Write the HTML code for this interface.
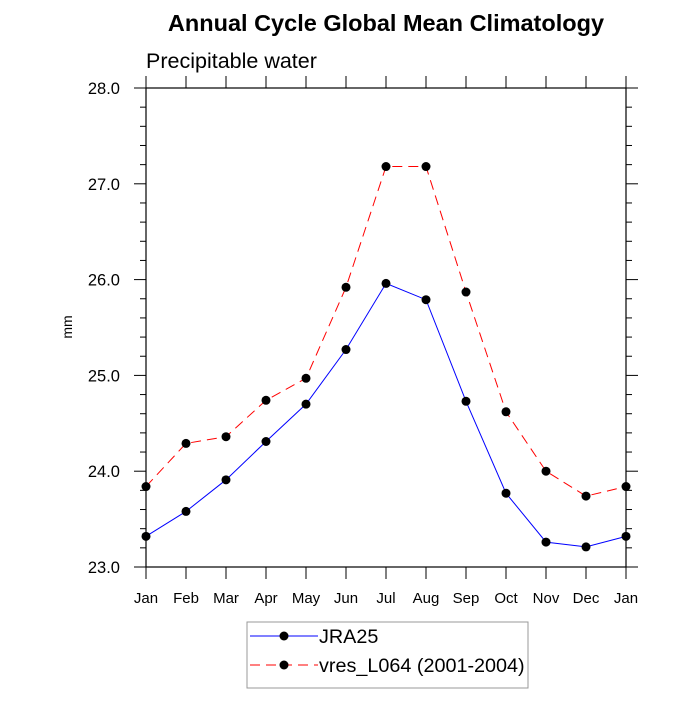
<!DOCTYPE html>
<html><head><meta charset="utf-8"><style>body{margin:0;background:#fff}svg{font-family:"Liberation Sans",sans-serif}</style></head>
<body>
<svg id="c" width="700" height="700" xmlns="http://www.w3.org/2000/svg">
<text x="386" y="31" font-size="23.5" font-weight="bold" text-anchor="middle">Annual Cycle Global Mean Climatology</text>
<text x="146" y="68" font-size="21.5">Precipitable water</text>
<text x="72" y="327" font-size="14" text-anchor="middle" transform="rotate(-90 72 327)">mm</text>
<g id="axes"></g><g id="marks"></g>
<g>
<rect x="247" y="622" width="281" height="66" fill="#fff" stroke="#999"/>
<g><line x1="250" y1="636" x2="318" y2="636" stroke="#00f" stroke-width="1"/><circle cx="284" cy="636" r="4.5"/><text x="319" y="643" font-size="19.8">JRA25</text></g>
<g><line x1="250" y1="665" x2="318" y2="665" stroke="#f00" stroke-dasharray="10,6"/><circle cx="284" cy="665" r="4.5"/><text x="319" y="672" font-size="19.8">vres_L064 (2001-2004)</text></g>
</g>
</svg>
<script>
const months=["Jan","Feb","Mar","Apr","May","Jun","Jul","Aug","Sep","Oct","Nov","Dec","Jan"];
const jra25=[23.32,23.58,23.91,24.31,24.70,25.27,25.96,25.79,24.73,23.77,23.26,23.21,23.32];
const vres=[23.84,24.29,24.36,24.74,24.97,25.92,27.18,27.18,25.87,24.62,24.00,23.74,23.84];
const yTicks=[23.0,24.0,25.0,26.0,27.0,28.0];
const NS="http://www.w3.org/2000/svg";
const L=146,R=626,T=88,B=567,ymin=23,ymax=28;
const xs=i=>L+(R-L)*i/(months.length-1);
const ys=v=>B-(v-ymin)/(ymax-ymin)*(B-T);
function mk(t,a,p){const e=document.createElementNS(NS,t);for(const k in a)e.setAttribute(k,a[k]);p.appendChild(e);return e;}
const ax=document.getElementById('axes'),mg=document.getElementById('marks');
const fr=mk('rect',{x:L,y:T,width:R-L,height:B-T,fill:'none',stroke:'#000','stroke-width':1.2},ax);


months.forEach((m,i)=>{const x=xs(i);
mk('line',{x1:x,y1:B,x2:x,y2:B+12,stroke:'#000'},ax);
mk('line',{x1:x,y1:T,x2:x,y2:T-12,stroke:'#000'},ax);
const t=mk('text',{x:x,y:B+36,'font-size':15,'text-anchor':'middle'},ax);t.textContent=m;

});
for(let v=ymin;v<=ymax+1e-9;v+=0.2){const y=ys(v);const major=Math.abs(v-Math.round(v))<1e-6;const len=major?12:6;
mk('line',{x1:L-len,y1:y,x2:L,y2:y,stroke:'#000'},ax);
mk('line',{x1:R,y1:y,x2:R+len,y2:y,stroke:'#000'},ax);}
yTicks.forEach(v=>{const t=mk('text',{x:L-26,y:ys(v)+6,'font-size':16.5,'text-anchor':'end'},ax);t.textContent=v.toFixed(1);

});
function series(d,col,dash,name){const pts=d.map((v,i)=>xs(i)+','+ys(v)).join(' ');
const pl=mk('polyline',{points:pts,fill:'none',stroke:col,'stroke-width':1,'stroke-dasharray':dash},mg);


d.forEach((v,i)=>{const c=mk('circle',{cx:xs(i),cy:ys(v),r:4.5,fill:'#000'},mg);

});}
series(jra25,'#00f','none','jra25');
series(vres,'#f00','10,6','vres');
</script>
</body></html>
